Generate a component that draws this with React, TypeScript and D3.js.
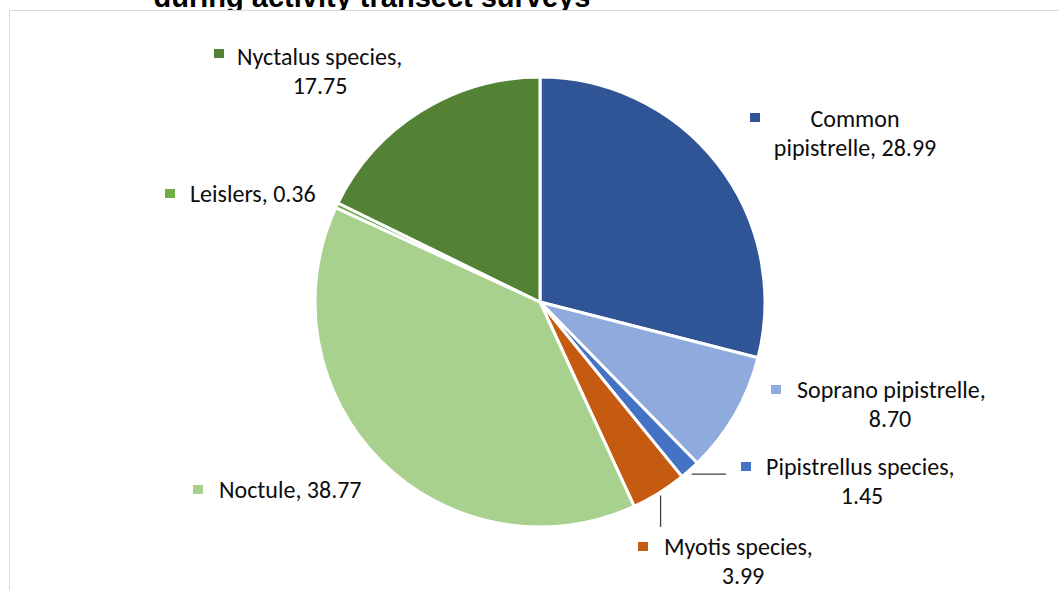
import React from "react";
import * as d3 from "d3";

// Bat passes by species (%) recorded during activity transect surveys
const species = [
  "Common pipistrelle",
  "Soprano pipistrelle",
  "Pipistrellus species",
  "Myotis species",
  "Noctule",
  "Leislers",
  "Nyctalus species",
];
const shares = [28.99, 8.7, 1.45, 3.99, 38.77, 0.36, 17.75];
const valueLabels = ["28.99", "8.70", "1.45", "3.99", "38.77", "0.36", "17.75"];
const sliceColors = ["#2F5597", "#8FAADC", "#4472C4", "#C55A11", "#A9D18E", "#70AD47", "#548235"];

// Label block layout: marker position, text lines and their anchors
type LabelLayout = {
  mx: number; my: number;
  lines: { text: string; x: number; y: number; anchor: "start" | "middle" }[];
  leader?: "h" | "v"; leaderEnd?: number;
};

const W = 1059;
const H = 590;
const cx = 540;
const cy = 302;
const R = 225;

const LABEL_FONT = "Carlito, Calibri, Lato, 'Open Sans', sans-serif";
const LABEL_SIZE = 24;

function buildLabels(): LabelLayout[] {
  return [
    { mx: 755, my: 117, lines: [
      { text: "Common", x: 855, y: 127, anchor: "middle" },
      { text: `pipistrelle, ${valueLabels[0]}`, x: 855, y: 156, anchor: "middle" },
    ] },
    { mx: 776, my: 389, lines: [
      { text: "Soprano pipistrelle,", x: 797, y: 398, anchor: "start" },
      { text: valueLabels[1], x: 890, y: 427, anchor: "middle" },
    ] },
    { mx: 746, my: 466, lines: [
      { text: "Pipistrellus species,", x: 766, y: 475, anchor: "start" },
      { text: valueLabels[2], x: 862, y: 504, anchor: "middle" },
    ], leader: "h", leaderEnd: 726 },
    { mx: 643, my: 546, lines: [
      { text: "Myotis species,", x: 664, y: 555, anchor: "start" },
      { text: valueLabels[3], x: 743, y: 584, anchor: "middle" },
    ], leader: "v", leaderEnd: 527 },
    { mx: 198, my: 489, lines: [
      { text: `Noctule, ${valueLabels[4]}`, x: 219, y: 498, anchor: "start" },
    ] },
    { mx: 170, my: 193, lines: [
      { text: `Leislers, ${valueLabels[5]}`, x: 190, y: 202, anchor: "start" },
    ] },
    { mx: 219, my: 53, lines: [
      { text: "Nyctalus species,", x: 237, y: 65, anchor: "start" },
      { text: valueLabels[6], x: 320, y: 94, anchor: "middle" },
    ] },
  ];
}

export default function App() {
  const data = species.map((name, i) => ({ name, value: shares[i], color: sliceColors[i] }));
  const pie = d3.pie<typeof data[number]>().value((d) => d.value).sort(null);
  const arcs = pie(data);
  const arc = d3.arc<d3.PieArcDatum<typeof data[number]>>().innerRadius(0).outerRadius(R);
  const labels = buildLabels();

  return (
    <svg
      width={W}
      height={H}
      style={{ position: "absolute", left: 0, top: 0, background: "#fff" }}
    >
      <text
        x={372}
        y={7}
        textAnchor="middle"
        fontFamily="'Liberation Sans', Arial, sans-serif"
        fontWeight="bold"
        fontSize={29}
        fill="#000"
      >
        during activity transect surveys
      </text>

      {/* chart area sits over the title's descenders */}
      <rect x={9.5} y={10} width={W} height={H} fill="#fff" />
      <line x1={9.5} y1={10.5} x2={W} y2={10.5} stroke="#d9d9d9" strokeWidth={1} />
      <line x1={9.5} y1={10.5} x2={9.5} y2={H} stroke="#d9d9d9" strokeWidth={1} />

      <g transform={`translate(${cx},${cy})`}>
        {arcs.map((a, i) => (
          <path key={i} d={arc(a) || ""} fill={a.data.color} stroke="#fff" strokeWidth={3} strokeLinejoin="round" />
        ))}
      </g>

      {labels.map((lb, i) => {
        const a = arcs[i];
        const mid = (a.startAngle + a.endAngle) / 2;
        const ox = cx + (R + 3) * Math.sin(mid);
        const oy = cy - (R + 3) * Math.cos(mid);
        return (
          <g key={i}>
            {lb.leader === "h" && lb.leaderEnd !== undefined && (
              <line x1={ox} y1={oy + 2} x2={lb.leaderEnd} y2={oy + 2} stroke="#404040" strokeWidth={1.3} />
            )}
            {lb.leader === "v" && lb.leaderEnd !== undefined && (
              <line x1={ox} y1={oy} x2={ox} y2={lb.leaderEnd} stroke="#404040" strokeWidth={1.3} />
            )}
            <rect x={lb.mx - 5} y={lb.my - 4} width={10} height={9} fill={sliceColors[i]} />
            {lb.lines.map((ln, j) => (
              <text
                key={j}
                x={ln.x}
                y={ln.y}
                textAnchor={ln.anchor}
                fontFamily={LABEL_FONT}
                fontSize={LABEL_SIZE}
                fill="#0d0d0d"
              >
                {ln.text}
              </text>
            ))}
          </g>
        );
      })}
    </svg>
  );
}
